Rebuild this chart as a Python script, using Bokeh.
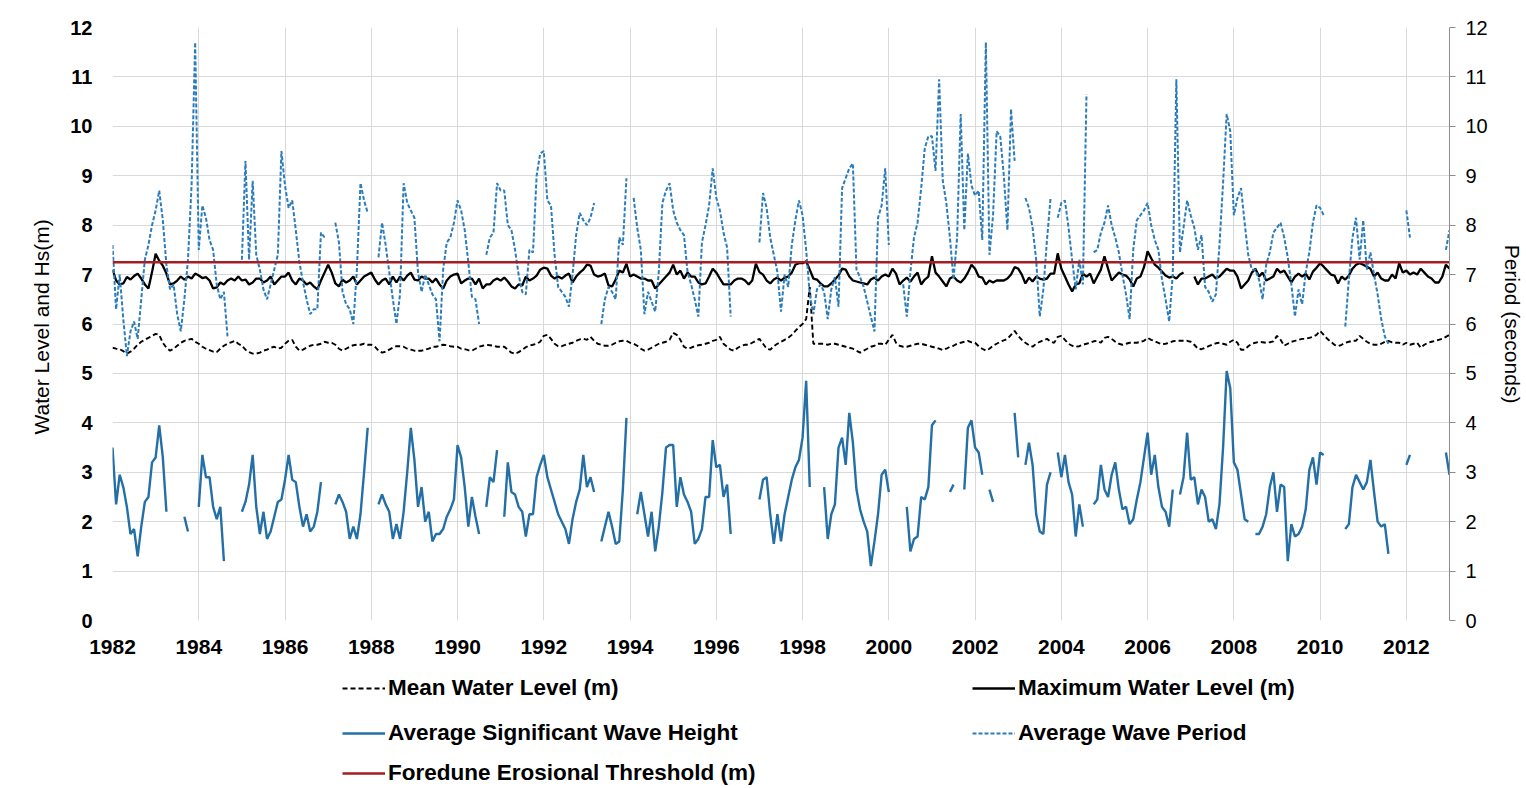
import numpy as np
from bokeh.plotting import figure
from bokeh.layouts import column
from bokeh.models import (Range1d, LinearAxis, FixedTicker, Legend, LegendItem,
                          ColumnDataSource)
from bokeh.embed import file_html
from bokeh.resources import INLINE

# ---------------- data (monthly, Jan 1982 .. Jan 2013) ----------------
start_year = 1982
year_ticks = [1982, 1984, 1986, 1988, 1990, 1992, 1994, 1996, 1998, 2000,
              2002, 2004, 2006, 2008, 2010, 2012]
y_ticks = [0, 1, 2, 3, 4, 5, 6, 7, 8, 9, 10, 11, 12]
threshold_m = 7.25

# Average significant wave height (m)
hs = [
    3.5, 2.35, 2.95, 2.7, 2.3, 1.75, 1.85, 1.3, 1.9, 2.4, 2.5, 3.2,          # 1982
    3.3, 3.95, 3.3, 2.2, None, None, None, None, 2.1, 1.8, None, None,       # 1983
    2.3, 3.35, 2.9, 2.9, 2.3, 2.05, 2.3, 1.2, None, None, None, None,        # 1984
    2.2, 2.4, 2.75, 3.35, 2.3, 1.75, 2.2, 1.65, 1.8, 2.1, 2.4, 2.45,         # 1985
    2.85, 3.35, 2.85, 2.8, 2.3, 1.9, 2.15, 1.8, 1.9, 2.2, 2.8, None,         # 1986
    None, None, 2.35, 2.55, 2.4, 2.2, 1.65, 1.9, 1.65, 2.15, 3.0, 3.9,       # 1987
    None, None, 2.35, 2.55, 2.35, 2.2, 1.65, 1.95, 1.65, 2.2, 3.0, 3.9,      # 1988
    3.25, 2.3, 2.7, 2.0, 2.2, 1.6, 1.75, 1.75, 1.85, 2.1, 2.25, 2.45,        # 1989
    3.55, 3.3, 2.7, 1.9, 2.5, 2.1, 1.75, None, 2.3, 2.9, 2.8, 3.45,          # 1990
    None, 2.1, 3.2, 2.6, 2.55, 2.3, 2.2, 1.7, 2.15, 2.15, 2.9, 3.15,         # 1991
    3.35, 2.9, 2.65, 2.4, 2.15, 2.0, 1.85, 1.55, 2.05, 2.4, 2.65, 3.35,      # 1992
    2.7, 2.9, 2.6, None, 1.6, 1.9, 2.2, 1.9, 1.55, 1.6, 2.65, 4.1,           # 1993
    None, None, 2.15, 2.6, 2.15, 1.7, 2.2, 1.4, 1.9, 2.6, 3.5, 3.55,         # 1994
    3.55, 2.3, 2.9, 2.55, 2.4, 2.2, 1.55, 1.65, 1.85, 2.5, 2.5, 3.65,        # 1995
    3.1, 3.15, 2.5, 2.75, 1.75, None, None, None, None, None, None, None,    # 1996
    2.45, 2.85, 2.9, 2.15, 1.55, 2.15, 1.6, 2.15, 2.5, 2.85, 3.1, 3.25,      # 1997
    3.7, 4.85, 2.7, None, None, None, 2.7, 1.65, 2.15, 2.35, 3.5, 3.7,       # 1998
    3.15, 4.2, 3.6, 2.65, 2.25, 2.0, 1.8, 1.1, 1.6, 2.15, 2.95, 3.05,        # 1999
    2.6, None, None, None, None, 2.3, 1.4, 1.65, 1.7, 2.5, 2.45, 2.7,        # 2000
    3.95, 4.05, None, None, None, 2.6, 2.75, None, None, 2.65, 3.9, 4.05,    # 2001
    3.5, 3.4, 2.95, None, 2.65, 2.4, None, None, None, None, None, 4.2,      # 2002
    3.3, None, 3.15, 3.6, 3.15, 2.15, 1.8, 1.75, 2.75, 3.0, None, 3.4,       # 2003
    2.9, 3.35, 2.8, 2.55, 1.7, 2.35, 1.9, None, None, 2.35, 2.45, 3.15,      # 2004
    2.65, 2.5, 2.95, 3.2, 2.65, 2.25, 2.3, 1.95, 2.05, 2.45, 2.8, 3.3,       # 2005
    3.8, 2.95, 3.35, 2.7, 2.3, 2.2, 1.9, 2.65, None, 2.55, 2.9, 3.8,         # 2006
    2.85, 2.9, 2.35, 2.65, 2.5, 2.0, 2.05, 1.85, 2.35, 3.5, 5.05, 4.7,       # 2007
    3.2, 3.05, 2.55, 2.05, 2.0, None, 1.75, 1.75, 1.9, 2.15, 2.7, 3.0,       # 2008
    2.2, 2.75, 2.7, 1.2, 1.95, 1.7, 1.75, 1.9, 2.25, 3.05, 3.3, 2.75,        # 2009
    3.4, 3.35, None, None, None, None, None, 1.85, 1.95, 2.7, 2.95, 2.8,     # 2010
    2.65, 2.8, 3.25, 2.6, 2.0, 1.9, 1.95, 1.35, None, None, None, None,      # 2011
    3.15, 3.35, None, None, None, None, None, None, None, None, None, 3.4,   # 2012
    2.95,                                                                    # 2013
]

# Average wave period (s)
period = [
    7.6, 6.3, 7.0, 6.1, 5.35, 5.85, 6.05, 5.7, 6.5, 7.3, 7.6, 8.0,           # 1982
    8.3, 8.7, 8.1, 7.2, 6.7, 6.8, 6.2, 5.85, 6.5, 7.3, 8.8, 11.7,            # 1983
    7.5, 8.4, 8.15, 7.7, 7.5, 6.8, 6.5, 6.65, 5.75, None, None, None,        # 1984
    7.3, 9.3, 7.3, 8.9, 7.4, 7.1, 6.7, 6.5, 6.8, 7.1, 7.4, 9.5,              # 1985
    8.8, 8.35, 8.5, 7.9, 7.25, 6.85, 6.5, 6.2, 6.3, 6.3, 7.85, 7.75,         # 1986
    None, None, 8.05, 7.65, 6.65, 6.4, 6.3, 6.0, 7.1, 8.85, 8.5, 8.25,       # 1987
    None, None, 7.35, 8.05, 7.6, 7.05, 6.5, 6.0, 6.6, 8.85, 8.45, 8.3,       # 1988
    8.15, 7.05, 6.65, 7.0, 6.8, 6.6, 6.5, 5.65, 7.1, 7.65, 7.75, 8.05,       # 1989
    8.5, 8.3, 7.9, 7.25, 6.55, 6.5, 6.0, None, 7.4, 7.75, 7.85, 8.85,        # 1990
    8.7, 8.7, 8.0, 7.9, 7.5, 7.0, 6.65, 6.6, 7.5, 7.45, 9.0, 9.45,           # 1991
    9.5, 8.5, 8.4, 7.4, 6.75, 6.65, 6.55, 6.35, 7.0, 7.8, 8.25, 8.1,         # 1992
    8.0, 8.15, 8.45, None, 6.0, 6.5, 6.75, 6.65, 6.5, 7.75, 7.6, 8.95,       # 1993
    None, 8.55, 7.95, 7.5, 6.2, 6.65, 6.45, 6.25, 7.05, 8.45, 8.7, 8.85,     # 1994
    8.3, 8.05, 7.9, 7.8, 7.05, 6.8, 6.5, 6.15, 7.65, 8.0, 8.4, 9.15,         # 1995
    8.55, 8.3, 7.85, 7.55, 6.15, None, None, None, None, None, None, None,   # 1996
    7.65, 8.65, 8.35, 7.75, 7.4, 7.05, 6.25, 7.0, 6.75, 7.6, 8.1, 8.5,       # 1997
    8.2, 7.5, 6.6, 6.2, 6.7, 6.8, 6.65, 6.1, 6.7, 6.95, 6.35, 8.75,          # 1998
    8.95, 9.15, 9.25, 7.1, 6.95, 6.75, 6.45, 6.15, 5.85, 8.15, 8.4, 9.15,    # 1999
    7.6, None, None, None, 6.8, 6.15, 7.05, 7.75, 8.05, 8.75, 9.55, 9.8,     # 2000
    9.8, 9.1, 10.95, 8.9, 8.45, 7.75, 6.9, 7.75, 10.25, 7.9, 9.45, 8.8,      # 2001
    8.6, 8.7, 7.7, 11.7, 7.4, 8.2, 9.9, 9.8, 9.0, 7.9, 10.35, 9.3,           # 2002
    None, None, 8.55, 8.35, 7.95, 7.3, 6.15, 6.7, 7.7, 8.55, None, 8.15,     # 2003
    8.45, 8.5, 7.95, 7.3, 6.7, 7.3, 6.8, 10.65, None, 7.45, 7.5, 7.85,       # 2004
    8.05, 8.4, 8.0, 7.75, 7.45, 7.0, 6.6, 6.1, 7.5, 8.1, 8.2, 8.3,           # 2005
    8.45, 8.0, 7.7, 7.5, 6.9, 6.5, 6.05, 7.0, 10.95, 7.45, 7.95, 8.5,        # 2006
    8.2, 7.95, 7.5, 7.8, 6.75, 6.65, 6.45, 6.6, 7.6, 8.85, 10.25, 9.9,       # 2007
    8.2, 8.55, 8.75, 8.05, 7.4, 7.1, 7.1, 6.9, 6.5, 7.2, 7.45, 7.85,         # 2008
    7.95, 8.05, 7.75, 7.35, 6.8, 6.15, 6.7, 6.4, 7.05, 7.45, 8.05, 8.4,      # 2009
    8.35, 8.2, None, None, None, None, None, 5.95, 6.9, 7.75, 8.15, 7.3,     # 2010
    8.1, 7.1, 7.45, 7.0, 6.6, 6.1, 5.75, 5.6, None, None, None, None,        # 2011
    8.3, 7.75, None, None, None, None, None, None, None, None, None, 7.5,    # 2012
    7.9,                                                                     # 2013
]

# Mean water level (m)
mean_wl = [
    5.52, 5.5, 5.49, 5.45, 5.4, 5.44, 5.5, 5.58, 5.64, 5.68, 5.72, 5.76,     # 1982
    5.8, 5.78, 5.62, 5.52, 5.46, 5.5, 5.56, 5.62, 5.66, 5.68, 5.7, 5.64,     # 1983
    5.6, 5.54, 5.5, 5.47, 5.44, 5.43, 5.5, 5.56, 5.6, 5.63, 5.66, 5.6,       # 1984
    5.56, 5.48, 5.43, 5.4, 5.4, 5.42, 5.46, 5.48, 5.52, 5.54, 5.5, 5.52,     # 1985
    5.6, 5.66, 5.68, 5.54, 5.46, 5.48, 5.52, 5.56, 5.58, 5.58, 5.6, 5.64,    # 1986
    5.62, 5.62, 5.58, 5.5, 5.46, 5.5, 5.54, 5.57, 5.58, 5.58, 5.6, 5.58,     # 1987
    5.58, 5.54, 5.46, 5.42, 5.44, 5.48, 5.52, 5.55, 5.55, 5.54, 5.5, 5.48,   # 1988
    5.46, 5.46, 5.46, 5.48, 5.5, 5.54, 5.54, 5.56, 5.58, 5.57, 5.55, 5.54,   # 1989
    5.54, 5.5, 5.49, 5.47, 5.46, 5.5, 5.54, 5.56, 5.58, 5.57, 5.56, 5.54,    # 1990
    5.54, 5.54, 5.48, 5.42, 5.4, 5.43, 5.48, 5.53, 5.56, 5.58, 5.6, 5.64,    # 1991
    5.76, 5.78, 5.7, 5.6, 5.55, 5.55, 5.58, 5.6, 5.62, 5.66, 5.69, 5.7,      # 1992
    5.68, 5.74, 5.66, 5.6, 5.58, 5.56, 5.56, 5.58, 5.62, 5.65, 5.66, 5.66,   # 1993
    5.62, 5.6, 5.56, 5.5, 5.46, 5.48, 5.52, 5.56, 5.6, 5.62, 5.64, 5.68,     # 1994
    5.82, 5.78, 5.68, 5.54, 5.5, 5.52, 5.55, 5.57, 5.58, 5.6, 5.62, 5.66,    # 1995
    5.68, 5.74, 5.6, 5.54, 5.48, 5.46, 5.52, 5.56, 5.58, 5.58, 5.62, 5.66,   # 1996
    5.7, 5.6, 5.5, 5.48, 5.55, 5.6, 5.64, 5.68, 5.72, 5.78, 5.86, 5.94,      # 1997
    6.0, 6.1, 6.75, 5.6, 5.6, 5.6, 5.6, 5.58, 5.6, 5.6, 5.58, 5.56,          # 1998
    5.54, 5.52, 5.5, 5.46, 5.42, 5.46, 5.5, 5.54, 5.56, 5.6, 5.6, 5.58,      # 1999
    5.68, 5.78, 5.62, 5.56, 5.54, 5.54, 5.56, 5.58, 5.6, 5.6, 5.58, 5.56,    # 2000
    5.54, 5.52, 5.5, 5.47, 5.5, 5.54, 5.56, 5.6, 5.62, 5.64, 5.66, 5.63,     # 2001
    5.62, 5.55, 5.5, 5.46, 5.5, 5.56, 5.6, 5.64, 5.67, 5.7, 5.78, 5.86,      # 2002
    5.76, 5.68, 5.62, 5.57, 5.54, 5.6, 5.64, 5.67, 5.7, 5.64, 5.62, 5.74,    # 2003
    5.76, 5.68, 5.6, 5.56, 5.54, 5.55, 5.58, 5.6, 5.62, 5.65, 5.66, 5.62,    # 2004
    5.72, 5.74, 5.7, 5.64, 5.6, 5.58, 5.6, 5.62, 5.62, 5.62, 5.64, 5.66,     # 2005
    5.72, 5.68, 5.65, 5.62, 5.59, 5.6, 5.62, 5.65, 5.66, 5.66, 5.66, 5.66,   # 2006
    5.64, 5.58, 5.5, 5.49, 5.52, 5.55, 5.58, 5.61, 5.62, 5.6, 5.58, 5.64,    # 2007
    5.68, 5.62, 5.48, 5.48, 5.55, 5.6, 5.62, 5.64, 5.63, 5.62, 5.63, 5.65,   # 2008
    5.76, 5.68, 5.56, 5.6, 5.64, 5.66, 5.68, 5.7, 5.7, 5.72, 5.74, 5.78,     # 2009
    5.86, 5.78, 5.7, 5.64, 5.58, 5.55, 5.58, 5.62, 5.64, 5.66, 5.66, 5.76,   # 2010
    5.7, 5.64, 5.6, 5.58, 5.58, 5.6, 5.64, 5.66, 5.63, 5.62, 5.62, 5.58,     # 2011
    5.62, 5.58, 5.6, 5.62, 5.52, 5.58, 5.62, 5.64, 5.66, 5.68, 5.7, 5.74,    # 2012
    5.78,                                                                    # 2013
]

# Maximum water level (m)
max_wl = [
    7.1, 6.88, 6.8, 6.82, 6.95, 6.9, 6.97, 7.02, 6.92, 6.8, 6.72, 7.05,      # 1982
    7.42, 7.28, 7.18, 7.02, 6.8, 6.82, 6.88, 6.96, 6.9, 6.96, 6.92, 7.02,    # 1983
    6.98, 6.93, 6.95, 6.88, 6.72, 6.74, 6.84, 6.8, 6.88, 6.92, 6.88, 6.96,   # 1984
    6.88, 6.9, 6.8, 6.84, 6.92, 6.92, 6.84, 6.88, 6.96, 6.8, 6.88, 6.96,     # 1985
    6.96, 7.04, 6.88, 6.8, 6.92, 6.88, 6.8, 6.84, 6.76, 6.7, 6.88, 7.04,     # 1986
    7.2, 7.04, 6.82, 6.76, 6.9, 6.84, 6.88, 6.96, 6.8, 6.88, 6.96, 7.0,      # 1987
    7.04, 6.9, 6.8, 6.88, 6.92, 6.8, 6.96, 6.84, 6.96, 6.88, 6.98, 7.04,     # 1988
    6.9, 6.88, 6.96, 6.92, 6.92, 6.84, 6.92, 6.8, 6.72, 6.88, 6.96, 7.0,     # 1989
    7.02, 6.82, 6.88, 6.92, 6.92, 6.8, 6.92, 6.72, 6.8, 6.8, 6.88, 6.92,     # 1990
    6.88, 6.94, 6.86, 6.76, 6.72, 6.8, 6.78, 6.96, 6.88, 6.92, 6.98, 7.1,    # 1991
    7.14, 7.12, 6.98, 6.92, 6.96, 6.92, 6.98, 7.02, 6.84, 6.96, 7.04, 7.1,   # 1992
    7.2, 7.18, 7.0, 6.96, 6.98, 7.02, 6.78, 6.76, 6.9, 7.08, 7.04, 7.22,     # 1993
    6.96, 7.0, 6.96, 6.92, 6.92, 6.88, 6.88, 6.72, 6.8, 6.88, 6.96, 7.04,    # 1994
    7.2, 7.0, 7.08, 6.92, 7.04, 6.96, 6.96, 6.84, 6.8, 6.82, 6.96, 7.12,     # 1995
    7.04, 6.92, 6.8, 6.8, 6.8, 6.88, 6.92, 6.92, 6.88, 6.8, 6.88, 7.22,      # 1996
    7.05, 7.0, 6.88, 6.82, 6.9, 6.94, 6.88, 6.94, 6.96, 7.04, 7.2, 7.23,     # 1997
    7.23, 7.27, 7.1, 6.92, 6.9, 6.82, 6.76, 6.76, 6.82, 6.9, 6.98, 7.12,     # 1998
    7.1, 6.96, 6.88, 6.86, 6.84, 6.82, 6.8, 6.9, 6.94, 6.88, 6.96, 7.0,      # 1999
    6.96, 7.12, 7.02, 6.8, 6.88, 6.94, 6.86, 6.96, 7.04, 6.8, 6.9, 6.96,     # 2000
    7.37, 7.04, 6.96, 6.86, 6.76, 6.92, 6.96, 6.88, 6.84, 6.92, 7.04, 7.2,   # 2001
    7.12, 6.96, 6.94, 6.8, 6.88, 6.84, 6.88, 6.88, 6.88, 6.92, 7.0, 7.15,    # 2002
    7.12, 7.0, 6.82, 6.94, 6.86, 6.96, 6.92, 6.9, 6.92, 7.02, 7.02, 7.43,    # 2003
    7.12, 6.96, 6.8, 6.66, 6.8, 6.82, 7.02, 6.96, 7.02, 6.82, 6.96, 7.1,     # 2004
    7.37, 7.12, 6.88, 6.96, 7.04, 7.0, 6.98, 6.9, 6.76, 6.92, 6.96, 7.15,    # 2005
    7.47, 7.33, 7.2, 7.14, 7.06, 6.98, 6.94, 6.96, 6.92, 7.0, 7.04, None,    # 2006
    None, 6.96, 6.8, 6.92, 6.92, 6.96, 7.0, 6.92, 6.96, 7.04, 7.12, 7.08,    # 2007
    7.08, 6.96, 6.72, 6.8, 6.88, 7.04, 7.12, 6.96, 7.04, 6.88, 6.92, 6.96,   # 2008
    7.12, 7.04, 7.08, 6.96, 6.84, 6.96, 7.02, 6.96, 7.02, 6.9, 7.06, 7.14,   # 2009
    7.23, 7.16, 7.08, 7.0, 6.98, 6.82, 6.96, 6.9, 6.98, 7.12, 7.2, 7.23,     # 2010
    7.2, 7.16, 7.12, 6.96, 7.04, 6.92, 6.88, 6.88, 7.0, 6.92, 7.23, 7.04,    # 2011
    7.08, 7.0, 7.04, 7.0, 7.12, 7.04, 6.96, 6.92, 6.84, 6.84, 6.96, 7.2,     # 2012
    7.12,                                                                    # 2013
]

legend_labels = ["Mean Water Level (m)", "Maximum Water Level (m)",
                 "Average Significant Wave Height", "Average Wave Period",
                 "Foredune Erosional Threshold (m)"]

# ---------------- styles ----------------
FONT = "Liberation Sans"
styles = {
    "mean_wl": dict(line_color="#000000", line_width=1.9, line_dash="5 3"),
    "max_wl": dict(line_color="#000000", line_width=2.3),
    "hs": dict(line_color="#236fa6", line_width=2.4),
    "period": dict(line_color="#2b7cbb", line_width=2, line_dash="4 2"),
    "thr": dict(line_color="#a31d22", line_width=2.5),
}

LEFT, RIGHT = 112, 76

# ---------------- main chart ----------------
n = len(hs)
months = np.arange(n)
date = start_year + months / 12.0

src = ColumnDataSource(dict(
    date=date,
    hs=np.array(hs, dtype=float),
    period=np.array(period, dtype=float),
    mean_wl=np.array(mean_wl, dtype=float),
    max_wl=np.array(max_wl, dtype=float),
    thr=np.full(n, threshold_m),
))

p = figure(width=1526, height=660,
           x_range=Range1d(1982, 2013), y_range=Range1d(0, 12),
           output_backend="svg", toolbar_location=None,
           min_border_left=LEFT, min_border_right=RIGHT,
           min_border_top=27, min_border_bottom=40,
           background_fill_color="white", border_fill_color="white")
p.outline_line_color = None
p.extra_y_ranges = {"period": Range1d(0, 12)}

p.xgrid.ticker = FixedTicker(ticks=year_ticks)
p.ygrid.ticker = FixedTicker(ticks=y_ticks)
p.xgrid.grid_line_color = "#d9d9d9"
p.ygrid.grid_line_color = "#d9d9d9"

xa = p.xaxis[0]
xa.ticker = FixedTicker(ticks=year_ticks)
xa.major_label_overrides = {y: str(y) for y in year_ticks}
xa.axis_line_color = None
xa.major_tick_line_color = None
xa.minor_tick_line_color = None
xa.major_label_standoff = 13
xa.major_label_text_font = FONT
xa.major_label_text_font_style = "bold"
xa.major_label_text_font_size = "21px"
xa.major_label_text_color = "#000000"

ya = p.yaxis[0]
ya.ticker = FixedTicker(ticks=y_ticks)
ya.axis_line_color = None
ya.major_tick_line_color = None
ya.minor_tick_line_color = None
ya.major_label_standoff = 14
ya.major_label_text_font = FONT
ya.major_label_text_font_style = "bold"
ya.major_label_text_font_size = "20px"
ya.major_label_text_color = "#000000"
ya.axis_label = "Water Level  and Hs(m)"
ya.axis_label_text_font = FONT
ya.axis_label_text_font_style = "normal"
ya.axis_label_text_font_size = "21px"
ya.axis_label_text_color = "#000000"
ya.axis_label_standoff = 14

ra = LinearAxis(y_range_name="period", axis_label="Period (seconds)",
                ticker=FixedTicker(ticks=y_ticks))
ra.axis_line_color = "#8c8c8c"
ra.major_tick_line_color = "#8c8c8c"
ra.major_tick_out = 6
ra.major_tick_in = 0
ra.minor_tick_line_color = None
ra.major_label_standoff = 10
ra.major_label_text_font = FONT
ra.major_label_text_font_size = "20px"
ra.major_label_text_color = "#000000"
ra.axis_label_text_font = FONT
ra.axis_label_text_font_style = "normal"
ra.axis_label_text_font_size = "21px"
ra.axis_label_text_color = "#000000"
ra.axis_label_standoff = 10
p.add_layout(ra, "right")

p.line("date", "mean_wl", source=src, **styles["mean_wl"])
p.line("date", "max_wl", source=src, **styles["max_wl"])
p.line("date", "hs", source=src, **styles["hs"])
p.line("date", "period", source=src, y_range_name="period", **styles["period"])
p.line("date", "thr", source=src, **styles["thr"])

# ---------------- legend strip below ----------------
lg_fig = figure(width=1526, height=128, x_range=Range1d(0, 1),
                y_range=Range1d(0, 1), x_axis_type=None, y_axis_type=None,
                output_backend="svg", toolbar_location=None,
                min_border_left=LEFT, min_border_right=RIGHT,
                min_border_top=0, min_border_bottom=0,
                background_fill_color="white", border_fill_color="white")
lg_fig.outline_line_color = None
lg_fig.grid.visible = False

keys = ["mean_wl", "max_wl", "hs", "period", "thr"]
# (left, bottom) of each legend entry, in pixels from the strip frame corner
spots = [(342 - LEFT, 87), (972 - LEFT, 87), (342 - LEFT, 42),
         (972 - LEFT, 42), (342 - LEFT, 2)]
for key, label, loc in zip(keys, legend_labels, spots):
    # off-screen dummy renderer that only carries the line style
    r = lg_fig.line(x=[-5, -4], y=[-5, -4], **styles[key])
    lg = Legend(items=[LegendItem(label=label, renderers=[r])],
                location=loc, padding=0, margin=0, spacing=0,
                border_line_color=None, background_fill_alpha=0,
                glyph_width=43, glyph_height=26, label_height=26,
                label_standoff=3,
                label_text_font=FONT, label_text_font_style="bold",
                label_text_font_size="22.5px", label_text_color="#000000")
    lg_fig.add_layout(lg)

layout = column(p, lg_fig, spacing=0)
open("out.html", "w").write(file_html(layout, INLINE))
